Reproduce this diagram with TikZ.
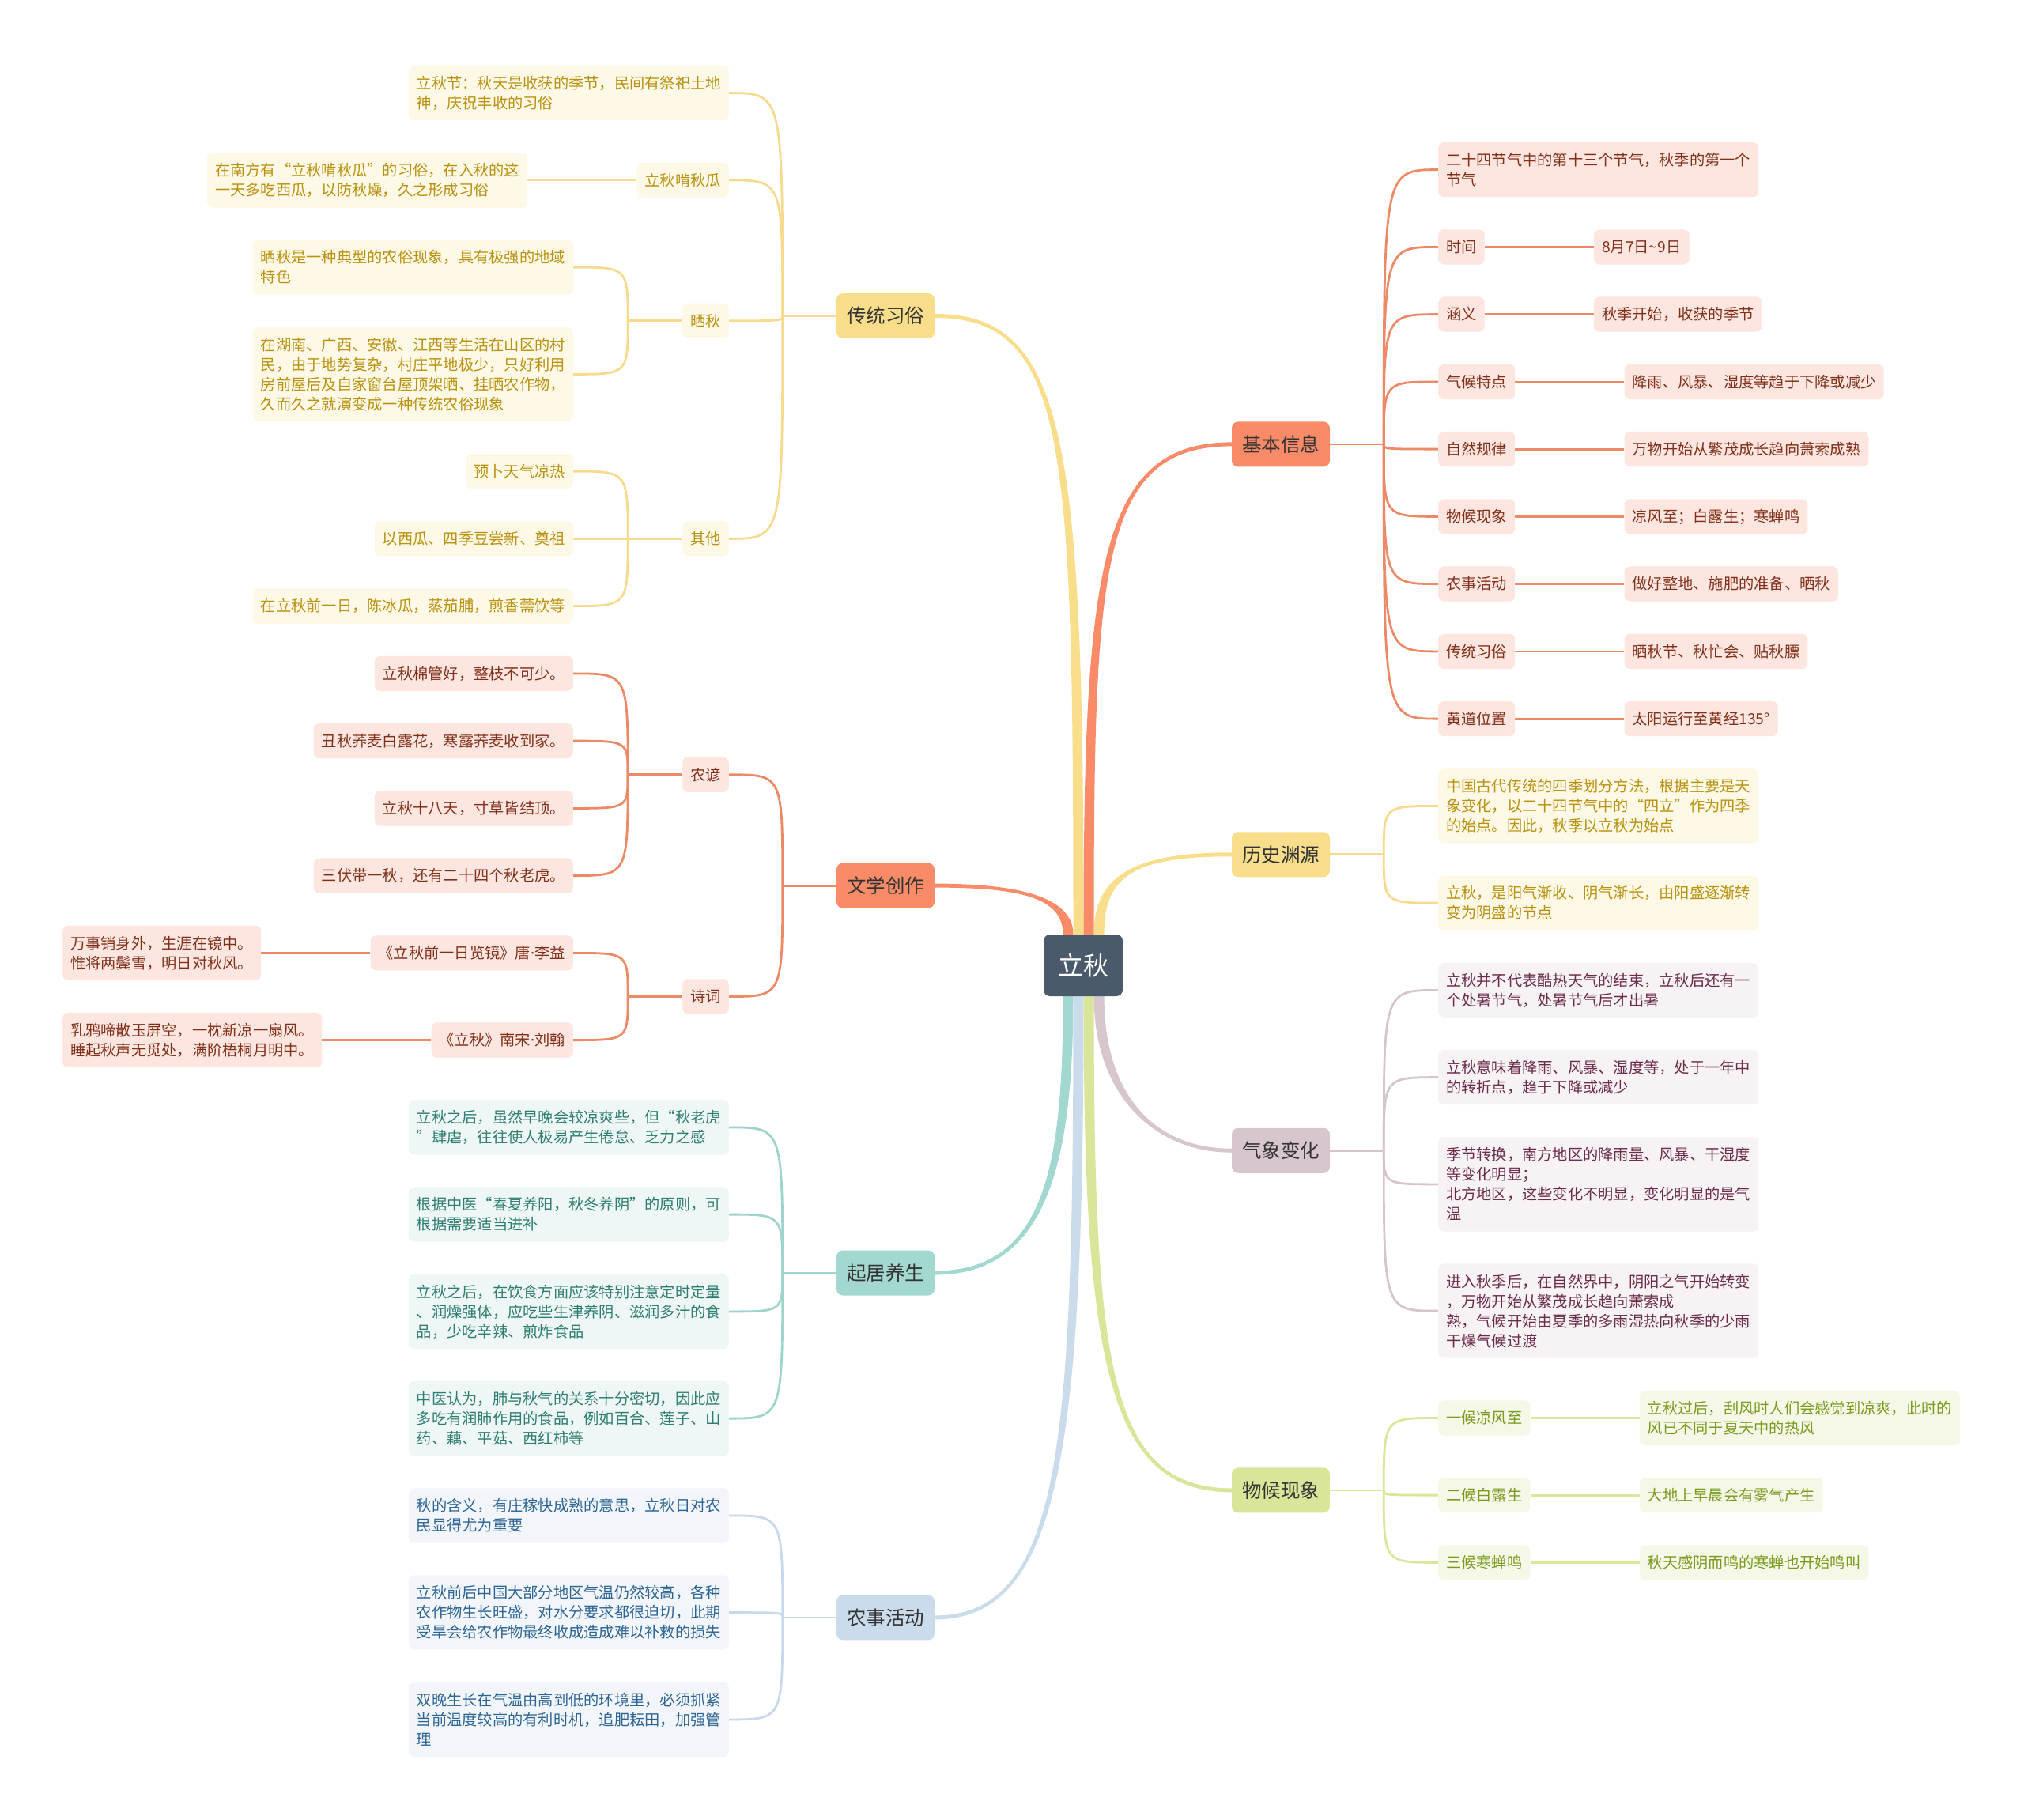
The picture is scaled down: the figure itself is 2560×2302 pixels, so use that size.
\documentclass[tikz,border=0pt]{standalone}
\usepackage{fontspec}
\newfontfamily\cjk{Noto Sans CJK SC}
\newfontfamily\latinfont{Noto Sans}
\usetikzlibrary{calc,backgrounds}
\definecolor{orFill}{HTML}{FDE6DF}
\definecolor{orText}{HTML}{80301A}
\definecolor{orLine}{HTML}{EC8A68}
\definecolor{orMain}{HTML}{F98B68}
\definecolor{yeFill}{HTML}{FEF8E6}
\definecolor{yeText}{HTML}{B8920E}
\definecolor{yeLine}{HTML}{F6DB8F}
\definecolor{yeMain}{HTML}{F8DE8B}
\definecolor{teFill}{HTML}{EEF7F6}
\definecolor{teText}{HTML}{2E7D71}
\definecolor{teLine}{HTML}{9FD4CC}
\definecolor{teMain}{HTML}{A3D8D0}
\definecolor{blFill}{HTML}{F2F6FA}
\definecolor{blText}{HTML}{2C6494}
\definecolor{blLine}{HTML}{C7D9EB}
\definecolor{blMain}{HTML}{CADCEC}
\definecolor{piFill}{HTML}{F7F2F4}
\definecolor{piText}{HTML}{6B2C4C}
\definecolor{piLine}{HTML}{D6C5CD}
\definecolor{piMain}{HTML}{D8C6CF}
\definecolor{grFill}{HTML}{F5F8E7}
\definecolor{grText}{HTML}{7A9A1E}
\definecolor{grLine}{HTML}{D9E69B}
\definecolor{grMain}{HTML}{D9E69A}
\definecolor{rootFill}{HTML}{4A5A6B}
\definecolor{mainText}{HTML}{333333}
\newcommand\mdot{{\latinfont ·}}
\newcommand\trunkpath[7]{\fill[#1] ($(#2)+(-#6,0)$) .. controls ($(#4)+(-#6,0)$) and ($(#5)+(0,#7)$) .. ($(#3)+(0,#7)$) -- ($(#3)+(0,{-1*(#7)})$) .. controls ($(#5)+(0,{-1*(#7)})$) and ($(#4)+(#6,0)$) .. ($(#2)+(#6,0)$) -- cycle;}
\tikzset{
 sub/.style={rounded corners=7pt, inner xsep=10pt, inner ysep=3pt, align=left, font=\cjk\fontsize{19.25pt}{25pt}\selectfont},
 ln1/.style={minimum height=44.25pt}, ln2/.style={minimum height=69.25pt},
 ln3/.style={minimum height=94.25pt}, ln4/.style={minimum height=119.25pt},
 sOr/.style={sub, fill=orFill, text=orText},
 sYe/.style={sub, fill=yeFill, text=yeText},
 sTe/.style={sub, fill=teFill, text=teText},
 sBl/.style={sub, fill=blFill, text=blText},
 sPi/.style={sub, fill=piFill, text=piText},
 sGr/.style={sub, fill=grFill, text=grText},
 mainnode/.style={rounded corners=8pt, inner xsep=13pt, inner ysep=3pt, minimum height=57pt, font=\cjk\fontsize{24.5pt}{28pt}\selectfont, text=mainText},
 mOr/.style={mainnode, fill=orMain}, mYe/.style={mainnode, fill=yeMain},
 mTe/.style={mainnode, fill=teMain}, mBl/.style={mainnode, fill=blMain},
 mPi/.style={mainnode, fill=piMain}, mGr/.style={mainnode, fill=grMain},
 rootnode/.style={rounded corners=8pt, fill=rootFill, text=white, minimum width=100pt, minimum height=78pt, font=\cjk\fontsize{32pt}{36pt}\selectfont},
 cOr/.style={draw=orLine, line width=2.8pt}, cYe/.style={draw=yeLine, line width=2.8pt},
 cTe/.style={draw=teLine, line width=2.8pt}, cBl/.style={draw=blLine, line width=2.8pt},
 cPi/.style={draw=piLine, line width=2.8pt}, cGr/.style={draw=grLine, line width=2.8pt},
}
\begin{document}
\begin{tikzpicture}[x=1pt,y=-1pt]
\path[use as bounding box] (0,0) rectangle (2560,2302);
% root
\node[rootnode] (root) at (1370,1221) {立秋};
% ===== left: 传统习俗
\node[mYe] (m1) at (1120,399.5) {传统习俗};
\node[sYe,ln2,anchor=east] (a1) at (922,117.6) {立秋节：秋天是收获的季节，民间有祭祀土地\\神，庆祝丰收的习俗};
\node[sYe,ln1,anchor=east] (a2) at (922,227.9) {立秋啃秋瓜};
\node[sYe,ln2,anchor=east] (a21) at ($(a2.west)+(-138,0)$) {在南方有“立秋啃秋瓜”的习俗，在入秋的这\\一天多吃西瓜，以防秋燥，久之形成习俗};
\node[sYe,ln1,anchor=east] (a3) at (922,405.75) {晒秋};
\node[sYe,ln2,anchor=east] (a31) at (725,338.1) {晒秋是一种典型的农俗现象，具有极强的地域\\特色};
\node[sYe,ln4,anchor=east] (a32) at (725,473.4) {在湖南、广西、安徽、江西等生活在山区的村\\民，由于地势复杂，村庄平地极少，只好利用\\房前屋后及自家窗台屋顶架晒、挂晒农作物，\\久而久之就演变成一种传统农俗现象};
\node[sYe,ln1,anchor=east] (a4) at (922,681.4) {其他};
\node[sYe,ln1,anchor=east] (a41) at (725,596.1) {预卜天气凉热};
\node[sYe,ln1,anchor=east] (a42) at (725,681.4) {以西瓜、四季豆尝新、奠祖};
\node[sYe,ln1,anchor=east] (a43) at (725,766.6) {在立秋前一日，陈冰瓜，蒸茄脯，煎香薷饮等};
% ===== left: 文学创作
\node[mOr] (m2) at (1120,1120.1) {文学创作};
\node[sOr,ln1,anchor=east] (b1) at (922,979.75) {农谚};
\node[sOr,ln1,anchor=east] (b11) at (725,851.9) {立秋棉管好，整枝不可少。};
\node[sOr,ln1,anchor=east] (b12) at (725,937.1) {丑秋荞麦白露花，寒露荞麦收到家。};
\node[sOr,ln1,anchor=east] (b13) at (725,1022.4) {立秋十八天，寸草皆结顶。};
\node[sOr,ln1,anchor=east] (b14) at (725,1107.6) {三伏带一秋，还有二十四个秋老虎。};
\node[sOr,ln1,anchor=east] (b2) at (922,1260.5) {诗词};
\node[sOr,ln1,anchor=east] (b21) at (725,1205.4) {《立秋前一日览镜》唐\mdot 李益};
\node[sOr,ln2,anchor=east] (b211) at ($(b21.west)+(-138,0)$) {万事销身外，生涯在镜中。\\惟将两鬓雪，明日对秋风。};
\node[sOr,ln1,anchor=east] (b22) at (725,1315.6) {《立秋》南宋\mdot 刘翰};
\node[sOr,ln2,anchor=east] (b221) at ($(b22.west)+(-138,0)$) {乳鸦啼散玉屏空，一枕新凉一扇风。\\睡起秋声无觅处，满阶梧桐月明中。};
% ===== left: 起居养生
\node[mTe] (m3) at (1120,1610) {起居养生};
\node[sTe,ln2,anchor=east] (c1) at (922,1425.9) {立秋之后，虽然早晚会较凉爽些，但“秋老虎\\”肆虐，往往使人极易产生倦怠、乏力之感};
\node[sTe,ln2,anchor=east] (c2) at (922,1536.1) {根据中医“春夏养阳，秋冬养阴”的原则，可\\根据需要适当进补};
\node[sTe,ln3,anchor=east] (c3) at (922,1658.9) {立秋之后，在饮食方面应该特别注意定时定量\\、润燥强体，应吃些生津养阴、滋润多汁的食\\品，少吃辛辣、煎炸食品};
\node[sTe,ln3,anchor=east] (c4) at (922,1794.1) {中医认为，肺与秋气的关系十分密切，因此应\\多吃有润肺作用的食品，例如百合、莲子、山\\药、藕、平菇、西红柿等};
% ===== left: 农事活动
\node[mBl] (m4) at (1120,2045.9) {农事活动};
\node[sBl,ln2,anchor=east] (d1) at (922,1916.9) {秋的含义，有庄稼快成熟的意思，立秋日对农\\民显得尤为重要};
\node[sBl,ln3,anchor=east] (d2) at (922,2039.6) {立秋前后中国大部分地区气温仍然较高，各种\\农作物生长旺盛，对水分要求都很迫切，此期\\受旱会给农作物最终收成造成难以补救的损失};
\node[sBl,ln3,anchor=east] (d3) at (922,2174.9) {双晚生长在气温由高到低的环境里，必须抓紧\\当前温度较高的有利时机，追肥耘田，加强管\\理};
% ===== right: 基本信息
\node[mOr] (m5) at (1620,561.9) {基本信息};
\node[sOr,ln2,anchor=west] (e1) at (1819,214.6) {二十四节气中的第十三个节气，秋季的第一个\\节气};
\node[sOr,ln1,anchor=west] (e2) at (1819,312.4) {时间};
\node[sOr,ln1,anchor=west] (e21) at ($(e2.east)+(138,0)$) {8月7日\textasciitilde9日};
\node[sOr,ln1,anchor=west] (e3) at (1819,397.6) {涵义};
\node[sOr,ln1,anchor=west] (e31) at ($(e3.east)+(138,0)$) {秋季开始，收获的季节};
\node[sOr,ln1,anchor=west] (e4) at (1819,482.9) {气候特点};
\node[sOr,ln1,anchor=west] (e41) at ($(e4.east)+(138,0)$) {降雨、风暴、湿度等趋于下降或减少};
\node[sOr,ln1,anchor=west] (e5) at (1819,568.1) {自然规律};
\node[sOr,ln1,anchor=west] (e51) at ($(e5.east)+(138,0)$) {万物开始从繁茂成长趋向萧索成熟};
\node[sOr,ln1,anchor=west] (e6) at (1819,653.4) {物候现象};
\node[sOr,ln1,anchor=west] (e61) at ($(e6.east)+(138,0)$) {凉风至；白露生；寒蝉鸣};
\node[sOr,ln1,anchor=west] (e7) at (1819,738.6) {农事活动};
\node[sOr,ln1,anchor=west] (e71) at ($(e7.east)+(138,0)$) {做好整地、施肥的准备、晒秋};
\node[sOr,ln1,anchor=west] (e8) at (1819,823.9) {传统习俗};
\node[sOr,ln1,anchor=west] (e81) at ($(e8.east)+(138,0)$) {晒秋节、秋忙会、贴秋膘};
\node[sOr,ln1,anchor=west] (e9) at (1819,909.1) {黄道位置};
\node[sOr,ln1,anchor=west] (e91) at ($(e9.east)+(138,0)$) {太阳运行至黄经135°};
% ===== right: 历史渊源
\node[mYe] (m6) at (1620,1080.75) {历史渊源};
\node[sYe,ln3,anchor=west] (f1) at (1819,1019.4) {中国古代传统的四季划分方法，根据主要是天\\象变化，以二十四节气中的“四立”作为四季\\的始点。因此，秋季以立秋为始点};
\node[sYe,ln2,anchor=west] (f2) at (1819,1142.1) {立秋，是阳气渐收、阴气渐长，由阳盛逐渐转\\变为阴盛的节点};
% ===== right: 气象变化
\node[mPi] (m7) at (1620,1455.25) {气象变化};
\node[sPi,ln2,anchor=west] (g1) at (1819,1252.4) {立秋并不代表酷热天气的结束，立秋后还有一\\个处暑节气，处暑节气后才出暑};
\node[sPi,ln2,anchor=west] (g2) at (1819,1362.6) {立秋意味着降雨、风暴、湿度等，处于一年中\\的转折点，趋于下降或减少};
\node[sPi,ln4,anchor=west] (g3) at (1819,1497.9) {季节转换，南方地区的降雨量、风暴、干湿度\\等变化明显；\\北方地区，这些变化不明显，变化明显的是气\\温};
\node[sPi,ln4,anchor=west] (g4) at (1819,1658.1) {进入秋季后，在自然界中，阴阳之气开始转变\\，万物开始从繁茂成长趋向萧索成\\熟，气候开始由夏季的多雨湿热向秋季的少雨\\干燥气候过渡};
% ===== right: 物候现象
\node[mGr] (m8) at (1620,1884.9) {物候现象};
\node[sGr,ln1,anchor=west] (h1) at (1819,1793.4) {一候凉风至};
\node[sGr,ln2,anchor=west] (h11) at ($(h1.east)+(138,0)$) {立秋过后，刮风时人们会感觉到凉爽，此时的\\风已不同于夏天中的热风};
\node[sGr,ln1,anchor=west] (h2) at (1819,1891.1) {二候白露生};
\node[sGr,ln1,anchor=west] (h21) at ($(h2.east)+(138,0)$) {大地上早晨会有雾气产生};
\node[sGr,ln1,anchor=west] (h3) at (1819,1976.4) {三候寒蝉鸣};
\node[sGr,ln1,anchor=west] (h31) at ($(h3.east)+(138,0)$) {秋天感阴而鸣的寒蝉也开始鸣叫};
% junctions
\coordinate (j1) at ($(m1.west)+(-68,0)$);
\coordinate (j2) at ($(m2.west)+(-68,0)$);
\coordinate (j3) at ($(m3.west)+(-68,0)$);
\coordinate (j4) at ($(m4.west)+(-68,0)$);
\coordinate (j5) at ($(m5.east)+(68,0)$);
\coordinate (j6) at ($(m6.east)+(68,0)$);
\coordinate (j7) at ($(m7.east)+(68,0)$);
\coordinate (j8) at ($(m8.east)+(68,0)$);
\coordinate (ja3) at ($(a3.west)+(-69,0)$);
\coordinate (ja4) at ($(a4.west)+(-69,0)$);
\coordinate (jb1) at ($(b1.west)+(-69,0)$);
\coordinate (jb2) at ($(b2.west)+(-69,0)$);
% trunk starts
\coordinate (s1) at ($(root.north)+(-6,0)$);
\coordinate (s2) at ($(root.north)+(-19,0)$);
\coordinate (s5) at ($(root.north)+(7,0)$);
\coordinate (s6) at ($(root.north)+(20,0)$);
\coordinate (s3) at ($(root.south)+(-19,0)$);
\coordinate (s4) at ($(root.south)+(-6,0)$);
\coordinate (s8) at ($(root.south)+(7,0)$);
\coordinate (s7) at ($(root.south)+(20,0)$);
\begin{scope}[on background layer]
\fill[white] (0,0) rectangle (2560,2302);
% main trunks
\trunkpath{orMain}{s2}{m2.east}{1351,1135}{1290,1120.1}{6.5}{2.5}
\trunkpath{yeMain}{s1}{m1.east}{1364,560}{1350,399.5}{6.5}{2.5}
\trunkpath{orMain}{s5}{m5.west}{1377,720}{1390,561.9}{6.5}{-2.5}
\trunkpath{yeMain}{s6}{m6.west}{1390,1110}{1430,1080.75}{6.5}{-2.5}
\trunkpath{teMain}{s3}{m3.east}{1351,1480}{1320,1610}{6.5}{-2.5}
\trunkpath{blMain}{s4}{m4.east}{1364,1820}{1345,2045.9}{6.5}{-2.5}
\trunkpath{grMain}{s8}{m8.west}{1377,1720}{1400,1884.9}{6.5}{2.5}
\trunkpath{piMain}{s7}{m7.west}{1390,1385}{1460,1455.25}{6.5}{2.5}
% left level-2 connectors
\draw[cYe] (m1.west) -- (j1);
\foreach \c in {a1,a2,a3,a4} \draw[cYe] (j1) .. controls (j1 |- \c.east) .. (\c.east);
\draw[cYe] (a2.west) -- (a21.east);
\draw[cYe] (a3.west) -- (ja3);
\foreach \c in {a31,a32} \draw[cYe] (ja3) .. controls (ja3 |- \c.east) .. (\c.east);
\draw[cYe] (a4.west) -- (ja4);
\foreach \c in {a41,a42,a43} \draw[cYe] (ja4) .. controls (ja4 |- \c.east) .. (\c.east);
\draw[cOr] (m2.west) -- (j2);
\foreach \c in {b1,b2} \draw[cOr] (j2) .. controls (j2 |- \c.east) .. (\c.east);
\draw[cOr] (b1.west) -- (jb1);
\foreach \c in {b11,b12,b13,b14} \draw[cOr] (jb1) .. controls (jb1 |- \c.east) .. (\c.east);
\draw[cOr] (b2.west) -- (jb2);
\foreach \c in {b21,b22} \draw[cOr] (jb2) .. controls (jb2 |- \c.east) .. (\c.east);
\draw[cOr] (b21.west) -- (b211.east);
\draw[cOr] (b22.west) -- (b221.east);
\draw[cTe] (m3.west) -- (j3);
\foreach \c in {c1,c2,c3,c4} \draw[cTe] (j3) .. controls (j3 |- \c.east) .. (\c.east);
\draw[cBl] (m4.west) -- (j4);
\foreach \c in {d1,d2,d3} \draw[cBl] (j4) .. controls (j4 |- \c.east) .. (\c.east);
% right level-2 connectors
\draw[cOr] (m5.east) -- (j5);
\foreach \c in {e1,e2,e3,e4,e5,e6,e7,e8,e9} \draw[cOr] (j5) .. controls (j5 |- \c.west) .. (\c.west);
\foreach \c/\d in {e2/e21,e3/e31,e4/e41,e5/e51,e6/e61,e7/e71,e8/e81,e9/e91} \draw[cOr] (\c.east) -- (\d.west);
\draw[cYe] (m6.east) -- (j6);
\foreach \c in {f1,f2} \draw[cYe] (j6) .. controls (j6 |- \c.west) .. (\c.west);
\draw[cPi] (m7.east) -- (j7);
\foreach \c in {g1,g2,g3,g4} \draw[cPi] (j7) .. controls (j7 |- \c.west) .. (\c.west);
\draw[cGr] (m8.east) -- (j8);
\foreach \c in {h1,h2,h3} \draw[cGr] (j8) .. controls (j8 |- \c.west) .. (\c.west);
\foreach \c/\d in {h1/h11,h2/h21,h3/h31} \draw[cGr] (\c.east) -- (\d.west);
\end{scope}
\end{tikzpicture}
\end{document}
